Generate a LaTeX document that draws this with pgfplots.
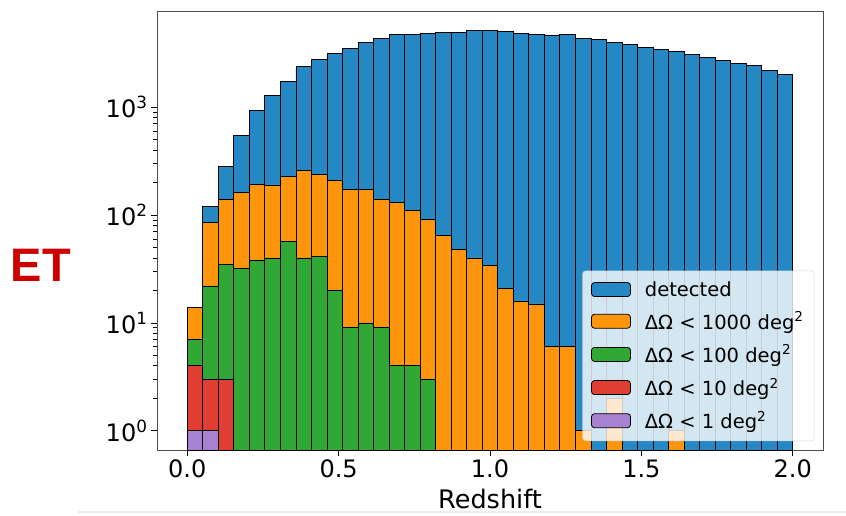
\documentclass[border=0pt]{standalone}
\usepackage{fontspec}
\setmainfont{DejaVu Sans}
\newfontfamily\etfont{Liberation Sans}
\usepackage{pgfplots}
\pgfplotsset{compat=1.18}
\definecolor{cblue}{RGB}{37,136,196}
\definecolor{corange}{RGB}{255,149,12}
\definecolor{cgreen}{RGB}{50,168,52}
\definecolor{cred}{RGB}{224,62,50}
\definecolor{cpurple}{RGB}{168,130,210}
\definecolor{etred}{RGB}{204,0,0}
\pgfplotsset{
  mybar/.style={ybar, bar width=0.0512821, bar shift=0pt, draw=black, line width=0.8pt,
    legend image code/.code={\draw[##1, fill opacity=1, draw opacity=1] (0pt,-7pt) rectangle (39pt,7pt);}},
}
\begin{document}
\begin{tikzpicture}
\useasboundingbox (-157pt,-65pt) rectangle (689pt,450pt);
\draw[black!8, line width=1.5pt] (-79pt,-62pt) -- (689pt,-62pt);
\node[font=\etfont\bfseries\fontsize{47}{50}\selectfont, text=etred] at (-116pt,184.5pt) {ET};
\begin{axis}[
  at={(0pt,0pt)}, anchor=south west,
  scale only axis, width=666pt, height=439pt,
  xmin=-0.1, xmax=2.1,
  ymode=log, ymin=0.665, ymax=7760, log origin=infty,
  axis line style={black!70, line width=0.8pt},
  tick align=outside, tick pos=left,
  major tick length=6pt, minor tick length=3.5pt,
  every tick/.style={black, line width=0.8pt},
  xtick={0,0.5,1,1.5,2}, xticklabels={0.0,0.5,1.0,1.5,2.0},
  ytick={1,10,100,1000},
  yticklabels={10\textsuperscript{0},10\textsuperscript{1},10\textsuperscript{2},10\textsuperscript{3}},
  ticklabel style={font=\fontsize{24}{28}\selectfont},
  xlabel={Redshift},
  xlabel style={font=\fontsize{25.5}{30}\selectfont, at={(axis description cs:0.5,0)}, anchor=base, yshift=-58.5pt},
  legend cell align=left,
  legend style={at={(0.987,0.0205)}, anchor=south east,
    font=\fontsize{19.5}{23}\selectfont,
    fill=white, fill opacity=0.8, draw opacity=0.8, text opacity=1, draw=black!20,
    rounded corners=3pt, row sep=10pt, inner sep=8.5pt,
    nodes={inner sep=2pt},
    /tikz/every odd column/.append style={column sep=12pt}},
]
\addplot[mybar, fill=cblue] coordinates {
(0.025641,14) (0.076923,121) (0.128205,280) (0.179487,550) (0.230769,938)
(0.282051,1273) (0.333333,1715) (0.384615,2362) (0.435897,2764) (0.487179,3141)
(0.538462,3494) (0.589744,3970) (0.641026,4325) (0.692308,4742) (0.743590,4710)
(0.794872,4810) (0.846154,4875) (0.897436,4945) (0.948718,5093) (1.000000,5093)
(1.051282,4980) (1.102564,4843) (1.153846,4670) (1.205128,4575) (1.256410,4670)
(1.307692,4325) (1.358974,4235) (1.410256,3998) (1.461538,3830) (1.512821,3574)
(1.564103,3420) (1.615385,3251) (1.666667,3097) (1.717949,2863) (1.769231,2723)
(1.820513,2539) (1.871795,2417) (1.923077,2202) (1.974359,2022)
};
\addlegendentry{detected}
\addplot[mybar, fill=corange] coordinates {
(0.025641,14) (0.076923,86) (0.128205,140) (0.179487,162) (0.230769,192)
(0.282051,190) (0.333333,226) (0.384615,257) (0.435897,238) (0.487179,210)
(0.538462,173) (0.589744,173) (0.641026,140) (0.692308,131) (0.743590,110)
(0.794872,91) (0.846154,65) (0.897436,48) (0.948718,40) (1.000000,34)
(1.051282,21) (1.102564,16) (1.153846,15) (1.205128,6) (1.256410,6)
(1.307692,1) (1.410256,2) (1.615385,1)
};
\addlegendentry{ΔΩ < 1000 deg\textsuperscript{2}}
\addplot[mybar, fill=cgreen] coordinates {
(0.025641,7) (0.076923,22) (0.128205,35) (0.179487,32) (0.230769,38)
(0.282051,40) (0.333333,57) (0.384615,40) (0.435897,41) (0.487179,20)
(0.538462,9) (0.589744,10) (0.641026,9) (0.692308,4) (0.743590,4)
(0.794872,3)
};
\addlegendentry{ΔΩ < 100 deg\textsuperscript{2}}
\addplot[mybar, fill=cred] coordinates {
(0.025641,4) (0.076923,3) (0.128205,3)
};
\addlegendentry{ΔΩ < 10 deg\textsuperscript{2}}
\addplot[mybar, fill=cpurple] coordinates {
(0.025641,1) (0.076923,1)
};
\addlegendentry{ΔΩ < 1 deg\textsuperscript{2}}
\end{axis}
\end{tikzpicture}
\end{document}
